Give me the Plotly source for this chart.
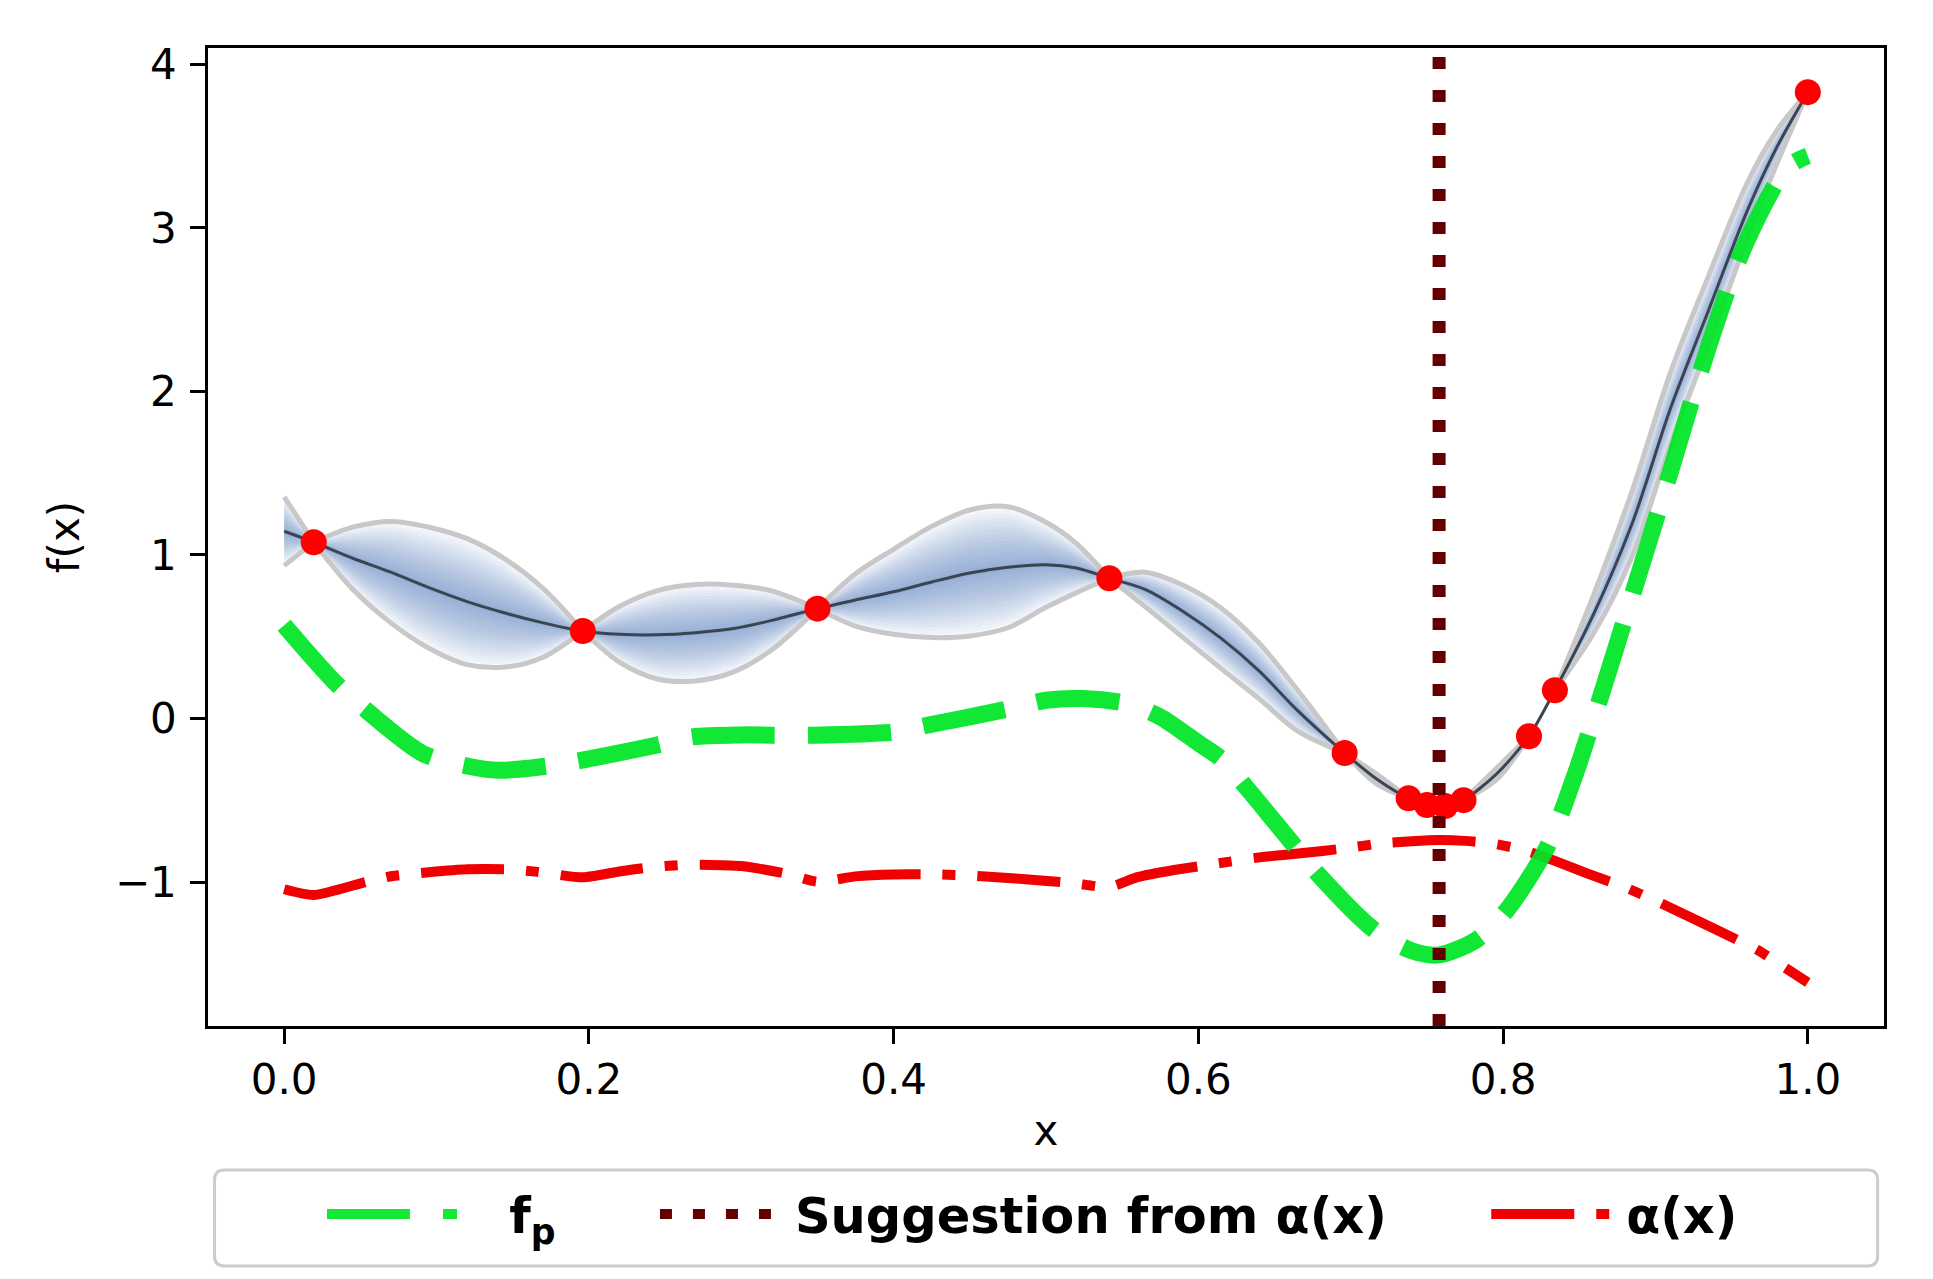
import plotly.graph_objects as go

# ---------------- data ----------------
# GP posterior: x grid, mean, and half-width of the uncertainty band
x_gp = [0.000, 0.0194, 0.045, 0.070, 0.095, 0.120, 0.145, 0.170, 0.196,
        0.220, 0.245, 0.270, 0.295, 0.320, 0.350,
        0.375, 0.400, 0.425, 0.450, 0.475, 0.500, 0.520, 0.5416,
        0.565, 0.590, 0.615, 0.640, 0.665, 0.696,
        0.717, 0.738, 0.750, 0.762, 0.774, 0.796, 0.817, 0.834,
        0.860, 0.885, 0.910, 0.935, 0.960, 0.980, 1.000]
mean_gp = [1.145, 1.078, 0.980, 0.895, 0.800, 0.715, 0.645, 0.585, 0.535,
           0.515, 0.512, 0.525, 0.550, 0.600, 0.672,
           0.725, 0.775, 0.835, 0.890, 0.925, 0.940, 0.920, 0.858,
           0.790, 0.655, 0.490, 0.290, 0.050, -0.211,
           -0.370, -0.488, -0.529, -0.535, -0.499, -0.336, -0.108, 0.173,
           0.650, 1.200, 1.900, 2.500, 3.100, 3.500, 3.830]
std_gp = [0.210, 0.000, 0.190, 0.310, 0.370, 0.385, 0.330, 0.210, 0.000,
          0.170, 0.270, 0.295, 0.265, 0.180, 0.000,
          0.160, 0.260, 0.340, 0.385, 0.370, 0.260, 0.150, 0.000,
          0.105, 0.160, 0.185, 0.170, 0.125, 0.000,
          0.030, 0.000, 0.000, 0.000, 0.000, 0.035, 0.000, 0.000,
          0.120, 0.200, 0.220, 0.210, 0.170, 0.100, 0.000]

# surrogate prediction f_p
x_fp = [0.000, 0.033, 0.054, 0.091, 0.120, 0.141, 0.169, 0.192, 0.244, 0.268,
        0.300, 0.321, 0.347, 0.400, 0.422, 0.450, 0.476, 0.500, 0.5245, 0.553,
        0.575, 0.600, 0.616, 0.632, 0.650, 0.665, 0.678, 0.715, 0.740, 0.758,
        0.783, 0.8026, 0.829, 0.846, 0.864, 0.881, 0.898, 0.912, 0.934, 0.958,
        0.9865, 1.000]
fp_vals = [0.570, 0.224, 0.050, -0.214, -0.290, -0.316, -0.295, -0.260, -0.163, -0.112,
           -0.100, -0.102, -0.102, -0.082, -0.041, 0.010, 0.061, 0.112, 0.122, 0.092,
           0.010, -0.150, -0.255, -0.427, -0.630, -0.800, -0.946, -1.290, -1.420, -1.445,
           -1.350, -1.170, -0.784, -0.377, 0.132, 0.641, 1.150, 1.577, 2.250, 2.880,
           3.370, 3.440]

# acquisition function alpha(x)
x_alpha = [0.000, 0.0194, 0.054, 0.071, 0.095, 0.120, 0.147, 0.165, 0.196, 0.220,
           0.240, 0.260, 0.280, 0.300, 0.330, 0.350, 0.375, 0.400, 0.425, 0.445,
           0.480, 0.518, 0.5416, 0.560, 0.584, 0.610, 0.640, 0.667, 0.696, 0.720,
           0.740, 0.758, 0.775, 0.792, 0.8135, 0.834, 0.856, 0.879, 0.900, 0.940,
           0.967, 0.984, 1.000]
alpha_vals = [-1.044, -1.079, -0.998, -0.963, -0.940, -0.922, -0.922, -0.936, -0.971, -0.935,
              -0.910, -0.896, -0.895, -0.902, -0.950, -0.998, -0.965, -0.953, -0.953, -0.958,
              -0.978, -1.007, -1.030, -0.970, -0.926, -0.890, -0.849, -0.824, -0.794, -0.763,
              -0.750, -0.743, -0.748, -0.763, -0.804, -0.870, -0.950, -1.028, -1.114, -1.292,
              -1.415, -1.517, -1.614]

# observed samples
x_obs = [0.0194, 0.196, 0.350, 0.5416, 0.696, 0.738, 0.750, 0.762, 0.774, 0.817, 0.834, 1.000]
y_obs = [1.078, 0.535, 0.672, 0.858, -0.211, -0.488, -0.529, -0.535, -0.499, -0.108, 0.173, 3.830]

# suggestion from alpha(x)
x_suggest = 0.758

# axis settings
x_range = [-0.05, 1.05]
y_range = [-1.88, 4.10]
x_ticks = [0.0, 0.2, 0.4, 0.6, 0.8, 1.0]
y_ticks = [-1, 0, 1, 2, 3, 4]

# legend labels
lbl_fp = "f<sub>p</sub>"
lbl_sugg = "Suggestion from α(x)"
lbl_alpha = "α(x)"

FONT = "DejaVu Sans"
NB = "&nbsp;"
fig = go.Figure()


def pinch_segments(n, ss):
    """Index ranges between zero-width points (observations); each piece is
    smoothed on its own so the band pinches sharply at the samples."""
    segs = []
    start = 0
    for i in range(1, n):
        if ss[i] == 0 or i == n - 1:
            if any(s > 0 for s in ss[start:i + 1]):
                segs.append((start, i + 1))
            start = i
    return segs


segments = pinch_segments(len(x_gp), std_gp)

# ---------------- gradient uncertainty band ----------------
N_LAYERS = 16
for k in range(N_LAYERS, 0, -1):
    f = k / N_LAYERS
    lo = [m - s * f for m, s in zip(mean_gp, std_gp)]
    hi = [m + s * f for m, s in zip(mean_gp, std_gp)]
    for a, b in segments:
        fig.add_trace(go.Scatter(x=x_gp[a:b], y=lo[a:b], mode="lines",
                                 line=dict(width=0, shape="spline", smoothing=0.9),
                                 showlegend=False, hoverinfo="skip"))
        fig.add_trace(go.Scatter(x=x_gp[a:b], y=hi[a:b], mode="lines",
                                 line=dict(width=0, shape="spline", smoothing=0.9),
                                 fill="tonexty", fillcolor="rgba(60,110,180,0.04)",
                                 showlegend=False, hoverinfo="skip"))

upper = [m + s for m, s in zip(mean_gp, std_gp)]
lower = [m - s for m, s in zip(mean_gp, std_gp)]
for band in (upper, lower):
    bx, by = [], []
    for a, b in segments:
        if bx:
            bx.append(None)
            by.append(None)
        bx.extend(x_gp[a:b])
        by.extend(band[a:b])
    fig.add_trace(go.Scatter(x=bx, y=by, mode="lines",
                             line=dict(color="#c8c8c8", width=5, shape="spline", smoothing=0.9),
                             showlegend=False, hoverinfo="skip"))

fig.add_trace(go.Scatter(x=x_gp, y=mean_gp, mode="lines",
                         line=dict(color="#3a4453", width=3, shape="spline", smoothing=0.8),
                         showlegend=False))

# ---------------- alpha(x) ----------------
fig.add_trace(go.Scatter(x=x_alpha, y=alpha_vals, mode="lines",
                         name="<b>" + lbl_alpha + "</b>",
                         line=dict(color="#f00000", width=10, dash="83px,22px,13px,22px",
                                   shape="spline", smoothing=0.6),
                         legendrank=3))

# ---------------- f_p ----------------
fig.add_trace(go.Scatter(x=x_fp, y=fp_vals, mode="lines",
                         name=NB * 3 + "<b>" + lbl_fp + "</b>" + NB * 6,
                         line=dict(color="#00e626", width=17, dash="83px,33px",
                                   shape="spline", smoothing=0.8),
                         opacity=0.93, legendrank=1))

# ---------------- observations ----------------
fig.add_trace(go.Scatter(x=x_obs, y=y_obs, mode="markers",
                         marker=dict(color="#ff0000", size=26, line=dict(width=0)),
                         showlegend=False))

# ---------------- suggestion line ----------------
fig.add_vline(x=x_suggest, line=dict(color="#640000", width=13, dash="12px,21px"), layer="above")
fig.add_trace(go.Scatter(x=[None], y=[None], mode="lines",
                         name="<b>" + lbl_sugg + "</b>" + NB * 6,
                         line=dict(color="#640000", width=13, dash="12px,21px"), legendrank=2))

# ---------------- legend frame (rounded box) ----------------
bx0, bx1, by0, by1 = 0.0039, 0.9962, -0.2454, -0.1472
rx, ry = 0.006, 0.010
frame = (f"M{bx0+rx},{by1} L{bx1-rx},{by1} Q{bx1},{by1} {bx1},{by1-ry} "
         f"L{bx1},{by0+ry} Q{bx1},{by0} {bx1-rx},{by0} L{bx0+rx},{by0} "
         f"Q{bx0},{by0} {bx0},{by0+ry} L{bx0},{by1-ry} Q{bx0},{by1} {bx0+rx},{by1} Z")
fig.add_shape(type="path", path=frame, xref="paper", yref="paper",
              line=dict(color="#cccccc", width=3), fillcolor="white", layer="below")

axis_common = dict(showline=True, linecolor="black", linewidth=2.5, mirror=True,
                   ticks="outside", ticklen=15, tickwidth=2.5, tickcolor="black",
                   showgrid=False, zeroline=False, automargin=False,
                   tickfont=dict(family=FONT, size=42, color="black"))

fig.update_xaxes(range=x_range, tickvals=x_ticks, tickformat=".1f",
                 title=dict(text="x", font=dict(family=FONT, size=42, color="black"), standoff=13),
                 **axis_common)
fig.update_yaxes(range=y_range, tickvals=y_ticks, ticklabelstandoff=5,
                 title=dict(text="f(x)", font=dict(family=FONT, size=42, color="black"), standoff=23),
                 **axis_common)

# the page body adds an 8 px offset; margins compensate so the plot area
# lands at x 208..1884, y 48..1026 in the screenshot
fig.update_layout(
    width=1933, height=1279,
    margin=dict(l=200, r=57, t=40, b=261),
    plot_bgcolor="white", paper_bgcolor="white",
    font=dict(family=FONT, size=42, color="black"),
    legend=dict(orientation="h", x=0.068, xanchor="left", y=-0.1925, yanchor="middle",
                bgcolor="rgba(0,0,0,0)", borderwidth=0,
                font=dict(family=FONT, size=49.5, color="black"),
                itemwidth=130, traceorder="normal"),
)

fig.write_html("out.html")
